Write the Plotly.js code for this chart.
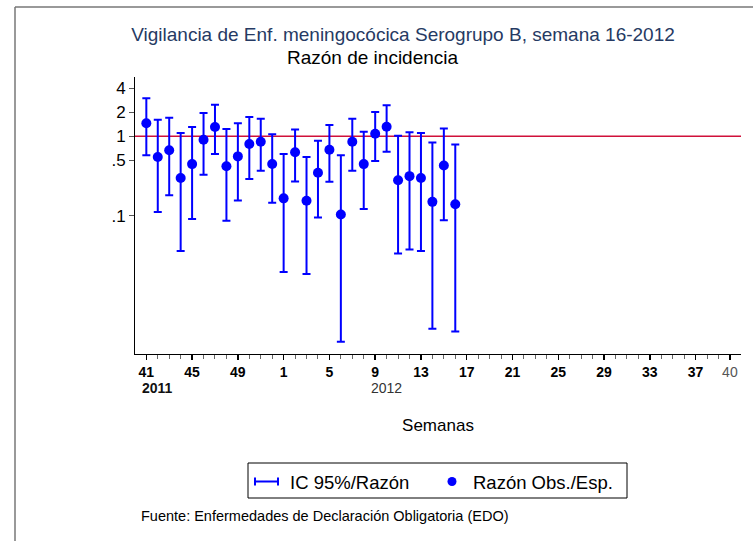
<!DOCTYPE html>
<html>
<head>
<meta charset="utf-8">
<script src="https://cdn.plot.ly/plotly-3.0.1.min.js"></script>
<style>
  html, body { margin: 0; padding: 0; background: #ffffff; }
  #chart { width: 753px; height: 541px; }
</style>
</head>
<body>
<div id="chart"></div>
<script>
// Season weeks: 2011 w41 .. 2012 w40
const seasonWeeks = ['41','42','43','44','45','46','47','48','49','50','51','52',
  '1','2','3','4','5','6','7','8','9','10','11','12','13','14','15','16','17','18','19','20',
  '21','22','23','24','25','26','27','28','29','30','31','32','33','34','35','36','37','38','39','40'];
const labelledWeeks = ['41','45','49','1','5','9','13','17','21','25','29','33','37','40'];
const yearLabels = ['2011', '2012'];
const yearStartWeeks = ['41', '9'];

// Observed / expected ratio and its 95% CI (weeks 41-2011 .. 16-2012)
const ratio = [1.46, 0.55, 0.67, 0.30, 0.448, 0.906, 1.31, 0.42, 0.56, 0.80, 0.855, 0.45,
  0.166, 0.63, 0.155, 0.348, 0.68, 0.104, 0.855, 0.448, 1.08, 1.32, 0.28, 0.316, 0.30, 0.15, 0.43, 0.14];
const upper = [3.01, 1.62, 1.71, 1.10, 1.31, 1.97, 2.50, 1.24, 1.46, 1.75, 1.67, 1.06,
  0.60, 1.22, 0.55, 0.88, 1.39, 0.577, 1.67, 1.14, 2.02, 2.46, 1.02, 1.13, 1.10, 0.84, 1.26, 0.79];
const lower = [0.58, 0.112, 0.182, 0.036, 0.091, 0.33, 0.60, 0.0865, 0.156, 0.29, 0.37, 0.146,
  0.0197, 0.27, 0.0186, 0.0955, 0.268, 0.0026, 0.37, 0.122, 0.49, 0.64, 0.0336, 0.0377, 0.036, 0.0038, 0.088, 0.0035];

const yTickVals = [0.1, 0.5, 1, 2, 4];
const yTickText = ['.1', '.5', '1', '2', '4'];
const referenceRatio = 1;

const xIdx = ratio.map((_, i) => i);
const majorIdx = [];
const majorText = [];
labelledWeeks.forEach((w, k) => {
  const last = k === labelledWeeks.length - 1;
  const idx = last ? seasonWeeks.lastIndexOf(w) : seasonWeeks.indexOf(w);
  majorIdx.push(idx);
  majorText.push(last ? '<span style="color:#555555">' + w + '</span>' : '<b>' + w + '</b>');
});

const blue = '#0000ff';

const traces = [
  {
    x: [-1, seasonWeeks.length],
    y: [referenceRatio, referenceRatio],
    mode: 'lines',
    line: { color: '#d0103a', width: 1.5 },
    hoverinfo: 'skip',
    showlegend: false
  },
  {
    x: xIdx,
    y: ratio,
    mode: 'markers',
    marker: { color: blue, size: 10 },
    error_y: {
      type: 'data',
      symmetric: false,
      array: upper.map((u, i) => u - ratio[i]),
      arrayminus: lower.map((l, i) => ratio[i] - l),
      color: blue,
      thickness: 2,
      width: 4
    },
    showlegend: false
  }
];

// paper coordinate helpers for the layout frame (plot area px: x 135..741, y 77..354)
const L = 135, R = 741, T = 77, B = 354;
const px = v => (v - L) / (R - L);
const py = v => (B - v) / (B - T);

const yearAnn = yearLabels.map((y, k) => ({
  x: seasonWeeks.indexOf(yearStartWeeks[k]), xref: 'x',
  y: py(388), yref: 'paper',
  xanchor: 'left', yanchor: 'middle', xshift: -6,
  text: k === 0 ? '<b>' + y + '</b>' : y,
  showarrow: false,
  font: { family: 'Liberation Sans, Arial, sans-serif', size: 14, color: k === 0 ? '#111111' : '#333333' }
}));

const layout = {
  width: 753, height: 541,
  margin: { l: L, r: 753 - R, t: T, b: 541 - B, pad: 0 },
  paper_bgcolor: '#ffffff', plot_bgcolor: '#ffffff',
  font: { family: 'Liberation Sans, Arial, sans-serif', color: '#000000' },
  title: {
    text: 'Vigilancia de Enf. meningocócica Serogrupo B, semana 16-2012',
    x: 403 / 753, xref: 'container', xanchor: 'center',
    y: 1 - 34 / 541, yref: 'container', yanchor: 'middle',
    font: { size: 19, color: '#263a63', family: 'Liberation Sans, Arial, sans-serif' }
  },
  showlegend: false,
  xaxis: {
    type: 'linear',
    range: [-0.99, 51.97],
    showgrid: false, zeroline: false,
    showline: true, linecolor: '#000000', linewidth: 1,
    ticks: 'outside', ticklen: 5, tickwidth: 1.5, tickcolor: '#000000',
    tickmode: 'array', tickvals: majorIdx, ticktext: majorText,
    tickfont: { size: 14, color: '#000000' },
    minor: { tickmode: 'linear', tick0: 0, dtick: 1, ticks: 'outside', ticklen: 4, tickcolor: '#666666', tickwidth: 1 },
    title: { text: 'Semanas', font: { size: 17, color: '#000000' }, standoff: 40 },
    fixedrange: true
  },
  yaxis: {
    type: 'log',
    range: [-2.738, 0.747],
    showgrid: false, zeroline: false,
    showline: true, linecolor: '#000000', linewidth: 1,
    ticks: 'outside', ticklen: 5, tickcolor: '#555555', tickwidth: 1,
    tickmode: 'array', tickvals: yTickVals, ticktext: yTickText,
    tickfont: { size: 17, color: '#000000' },
    fixedrange: true
  },
  shapes: [
    // outer frame (top and left edges)
    { type: 'line', xref: 'paper', yref: 'paper', x0: px(15), x1: px(753), y0: py(7), y1: py(7), line: { color: '#777777', width: 1.5 } },
    { type: 'line', xref: 'paper', yref: 'paper', x0: px(15), x1: px(15), y0: py(7), y1: py(541), line: { color: '#777777', width: 1.5 } },
    // legend box
    { type: 'rect', xref: 'paper', yref: 'paper', x0: px(248), x1: px(627), y0: py(463), y1: py(498), line: { color: '#000000', width: 1 }, fillcolor: 'rgba(0,0,0,0)' },
    // legend CI symbol
    { type: 'line', xref: 'paper', yref: 'paper', x0: px(255), x1: px(278), y0: py(481.5), y1: py(481.5), line: { color: blue, width: 2 } },
    { type: 'line', xref: 'paper', yref: 'paper', x0: px(255), x1: px(255), y0: py(477.5), y1: py(485.5), line: { color: blue, width: 2 } },
    { type: 'line', xref: 'paper', yref: 'paper', x0: px(278), x1: px(278), y0: py(477.5), y1: py(485.5), line: { color: blue, width: 2 } },
    // legend dot
    { type: 'circle', xref: 'paper', yref: 'paper', x0: px(447.5), x1: px(456.5), y0: py(477), y1: py(486), line: { color: blue, width: 0 }, fillcolor: blue }
  ],
  annotations: [
    {
      text: 'Razón de incidencia', xref: 'paper', yref: 'paper',
      x: px(373), y: py(58), xanchor: 'center', yanchor: 'middle', showarrow: false,
      font: { size: 19, color: '#000000' }
    },
    ...yearAnn,
    {
      text: 'IC 95%/Razón', xref: 'paper', yref: 'paper',
      x: px(288), y: py(482), xanchor: 'left', yanchor: 'middle', showarrow: false,
      font: { size: 18.5, color: '#000000' }
    },
    {
      text: 'Razón Obs./Esp.', xref: 'paper', yref: 'paper',
      x: px(471), y: py(482), xanchor: 'left', yanchor: 'middle', showarrow: false,
      font: { size: 18.5, color: '#000000' }
    },
    {
      text: 'Fuente: Enfermedades de Declaración Obligatoria (EDO)', xref: 'paper', yref: 'paper',
      x: px(139), y: py(516), xanchor: 'left', yanchor: 'middle', showarrow: false,
      font: { size: 14.5, color: '#000000' }
    }
  ]
};

Plotly.newPlot('chart', traces, layout, { staticPlot: true, displayModeBar: false });
</script>
</body>
</html>
